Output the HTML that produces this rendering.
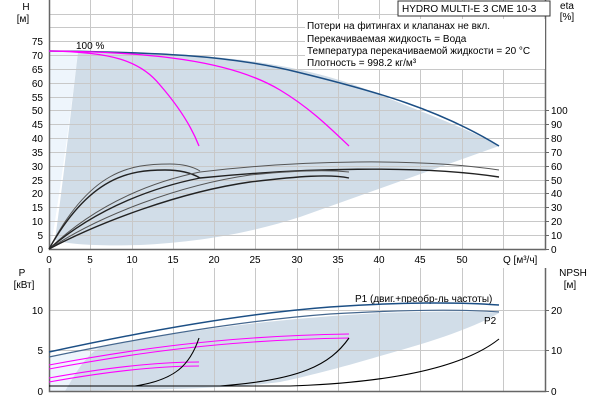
<!DOCTYPE html><html><head><meta charset="utf-8"><style>body{margin:0;background:#fff}svg{display:block;font-family:"Liberation Sans",sans-serif;font-size:10px}</style></head><body>
<svg width="600" height="400" viewBox="0 0 600 400">
<rect width="600" height="400" fill="#fff"/>
<path d="M49,51 L78,51 C70,120 60,190 52,240 L49,249 Z" fill="#eef5fc"/>
<path d="M78,52 C200,52 300,60 380,95 C430,115 470,130 499,146 L300,217 C250,233 200,242 140,245 C100,246 70,245 55,240 C62,190 70,120 78,52 Z" fill="#d1dde8"/>
<g stroke="#c8c8c8" stroke-width="1">
<path d="M90.5,0V249M132.5,0V249M173.5,0V249M214.5,0V249M255.5,0V249M297.5,0V249M338.5,0V249M379.5,0V249M420.5,0V249M462.5,0V249M503.5,0V249"/>
<path d="M49,235.5H545M49,221.5H545M49,207.5H545M49,193.5H545M49,180.5H545M49,166.5H545M49,152.5H545M49,138.5H545M49,124.5H545M49,110.5H545M49,97.5H545M49,83.5H545M49,69.5H545M49,55.5H545M49,41.5H545M49,27.5H545M49,14.5H545"/>
</g>
<path d="M49.5,0V249.5H545.5V0" fill="none" stroke="#666" stroke-width="1.5"/>
<g text-anchor="end">
<text x="43" y="253">0</text><text x="43" y="239">5</text><text x="43" y="225">10</text><text x="43" y="211">15</text><text x="43" y="197">20</text><text x="43" y="184">25</text><text x="43" y="170">30</text><text x="43" y="156">35</text><text x="43" y="142">40</text><text x="43" y="128">45</text><text x="43" y="114">50</text><text x="43" y="101">55</text><text x="43" y="87">60</text><text x="43" y="73">65</text><text x="43" y="59">70</text><text x="43" y="45">75</text>
</g>
<text x="26" y="10" text-anchor="middle">H</text><text x="23" y="22" text-anchor="middle">[м]</text>
<g stroke="#666"><path d="M545,249.5h4M545,235.5h4M545,221.5h4M545,207.5h4M545,193.5h4M545,180.5h4M545,166.5h4M545,152.5h4M545,138.5h4M545,124.5h4M545,110.5h4"/></g>
<g><text x="551" y="253">0</text><text x="551" y="239">10</text><text x="551" y="225">20</text><text x="551" y="211">30</text><text x="551" y="197">40</text><text x="551" y="184">50</text><text x="551" y="170">60</text><text x="551" y="156">70</text><text x="551" y="142">80</text><text x="551" y="128">90</text><text x="551" y="114">100</text></g>
<text x="567" y="9" text-anchor="middle">eta</text><text x="567" y="20" text-anchor="middle">[%]</text>
<g text-anchor="middle"><text x="49" y="263">0</text><text x="90" y="263">5</text><text x="132" y="263">10</text><text x="173" y="263">15</text><text x="214" y="263">20</text><text x="255" y="263">25</text><text x="297" y="263">30</text><text x="338" y="263">35</text><text x="379" y="263">40</text><text x="420" y="263">45</text><text x="462" y="263">50</text></g>
<text x="503" y="263">Q [м³/ч]</text>
<rect x="398" y="1" width="152" height="15" fill="#fff" stroke="#333"/>
<text x="402" y="12">HYDRO MULTI-E 3 CME 10-3</text>
<rect x="305" y="19" width="240" height="50" fill="#fff"/>
<text x="307" y="29">Потери на фитингах и клапанах не вкл.</text>
<text x="307" y="42">Перекачиваемая жидкость = Вода</text>
<text x="307" y="54">Температура перекачиваемой жидкости = 20 °C</text>
<text x="307" y="66">Плотность = 998.2 кг/м³</text>
<text x="76" y="49">100 %</text>
<path d="M49,51 C150,52 230,55 297,72 C379,92 440,110 499,146" fill="none" stroke="#1c4f85" stroke-width="1.5"/>
<path d="M49,51 C110,52 140,60 160,85 C180,108 192,128 199,146" fill="none" stroke="#f0f" stroke-width="1.3"/>
<path d="M49,51 C150,52 230,60 280,90 C310,108 330,128 349,146" fill="none" stroke="#f0f" stroke-width="1.3"/>
<g fill="none" stroke="#222">
<path d="M49,249 C90,170 130,164 170,164 C185,164 195,168 200,171" stroke="#555"/>
<path d="M49,249 C90,176 130,170 165,170 C185,170 195,175 200,178" stroke-width="1.4"/>
<path d="M49,249 C100,200 160,180 200,172 C300,160 420,158 499,170" stroke="#555"/>
<path d="M49,249 C100,205 160,186 200,178 C300,168 420,165 499,177" stroke-width="1.4"/>
<path d="M49,249 C100,215 180,185 250,175 C300,170 330,170 349,172" stroke="#555"/>
<path d="M49,249 C100,222 180,192 250,182 C300,176 330,174 349,178" stroke-width="1.4"/>
</g>
<!-- bottom -->
<path d="M49,357 C150,336 250,320 380,313 C440,311 480,311 499,313 C470,330 420,345 380,356 C340,368 300,378 280,382 C230,389 150,390 49,391 Z" fill="#d1dde8"/>
<path d="M49,357 L100,348 C85,355 75,375 65,391 L49,391 Z" fill="#eef5fc"/>
<g stroke="#c8c8c8"><path d="M90.5,268V391M132.5,268V391M173.5,268V391M214.5,268V391M255.5,268V391M297.5,268V391M338.5,268V391M379.5,268V391M420.5,268V391M462.5,268V391M503.5,268V391M49,310.5H545M49,350.5H545"/></g>
<path d="M49.5,268V391.5H545.5V268" fill="none" stroke="#666" stroke-width="1.5"/>
<g stroke="#666"><path d="M545,310.5h4M545,350.5h4M545,391.5h4"/></g>
<g text-anchor="end"><text x="43" y="314">10</text><text x="43" y="354">5</text><text x="43" y="395">0</text></g>
<text x="22" y="276" text-anchor="middle">P</text><text x="24" y="288" text-anchor="middle">[кВт]</text>
<g><text x="551" y="314">20</text><text x="551" y="354">10</text><text x="551" y="395">0</text></g>
<text x="573" y="276" text-anchor="middle">NPSH</text><text x="570" y="288" text-anchor="middle">[м]</text>
<text x="355" y="302">P1 (двиг.+преобр-ль частоты)</text>
<text x="484" y="324">P2</text>
<path d="M49,352 C150,330 250,313 330,307 C400,302 460,302 499,305" fill="none" stroke="#1c4f85" stroke-width="1.5"/>
<path d="M49,357 C150,336 250,320 330,314 C400,310 460,309 499,312" fill="none" stroke="#45678e" stroke-width="1.2"/>
<g fill="none" stroke="#f0f" stroke-width="1.1">
<path d="M49,365 C130,350 220,336 349,334"/><path d="M49,369 C130,354 220,340 349,338"/>
<path d="M49,378 C110,367 160,362 199,362"/><path d="M49,382 C110,371 160,366 199,366"/>
</g>
<g fill="none" stroke="#000" stroke-width="1.1">
<path d="M49,386 L290,386 C380,383 460,370 499,339"/>
<path d="M135,386 C175,380 190,365 199,338"/>
<path d="M220,386 C300,380 330,365 349,338"/>
</g>
</svg>
</body></html>
